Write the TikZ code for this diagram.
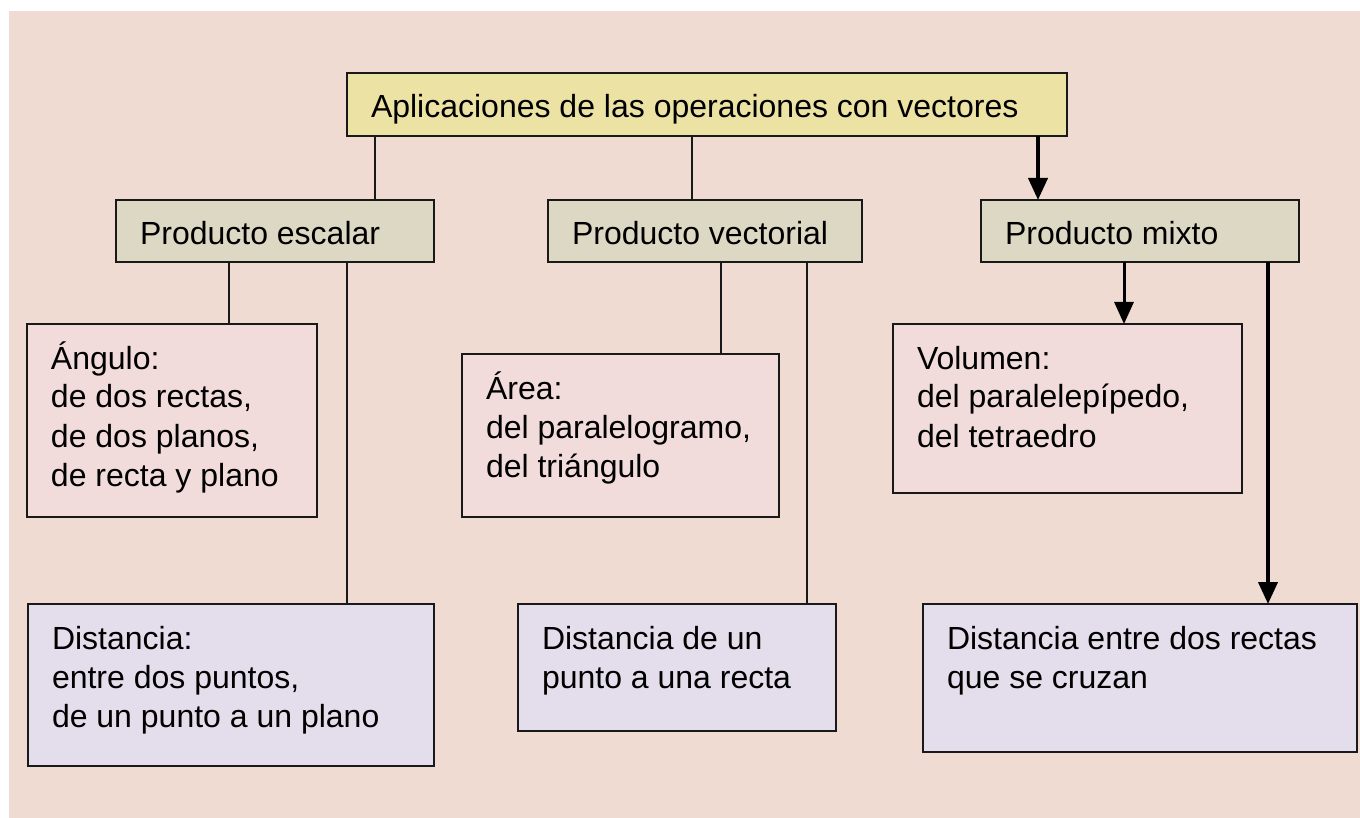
\documentclass[tikz,border=0pt]{standalone}
\usepackage{fontspec}
\setmainfont{Liberation Sans}
\usetikzlibrary{arrows.meta}
\definecolor{bgc}{RGB}{239,219,209}
\definecolor{topc}{RGB}{235,226,164}
\definecolor{midc}{RGB}{221,216,196}
\definecolor{pinkc}{RGB}{242,220,219}
\definecolor{lavc}{RGB}{228,222,236}
\newcommand{\bxt}[3]{\parbox[t][#2][t]{#1}{\fontsize{32}{39}\selectfont\raggedright\leftskip=24pt\rule{0pt}{45pt}#3}}
\tikzset{
  boxnode/.style={draw=black!90, line width=2pt, inner sep=0pt, outer sep=0pt, anchor=north west},
  thinline/.style={draw=black!90, line width=2pt},
  arrowline/.style={draw=black, -{Triangle[length=22pt,width=19pt]}}
}
\begin{document}
\begin{tikzpicture}[x=1pt,y=-1pt]
\useasboundingbox (0,0) rectangle (1360,818);
\fill[bgc] (9,11) rectangle (1360,818);
% nodes
\node[boxnode, fill=topc] (top) at (347,73) {\bxt{720pt}{63pt}{Aplicaciones de las operaciones con vectores}};
\node[boxnode, fill=midc] (esc) at (116,200) {\bxt{318pt}{62pt}{Producto escalar}};
\node[boxnode, fill=midc] (vec) at (548,200) {\bxt{314pt}{62pt}{Producto vectorial}};
\node[boxnode, fill=midc] (mix) at (981,200) {\bxt{318pt}{62pt}{Producto mixto}};
\node[boxnode, fill=pinkc] (ang) at (27,324) {\bxt{290pt}{193pt}{Ángulo:\\de dos rectas,\\de dos planos,\\de recta y plano}};
\node[boxnode, fill=pinkc] (area) at (462,354) {\bxt{317pt}{163pt}{Área:\\del paralelogramo,\\del triángulo}};
\node[boxnode, fill=pinkc] (vol) at (893,324) {\bxt{349pt}{169pt}{Volumen:\\del paralelepípedo,\\del tetraedro}};
\node[boxnode, fill=lavc] (dA) at (28,604) {\bxt{406pt}{162pt}{Distancia:\\entre dos puntos,\\de un punto a un plano}};
\node[boxnode, fill=lavc] (dB) at (518,604) {\bxt{318pt}{127pt}{Distancia de un\\punto a una recta}};
\node[boxnode, fill=lavc] (dC) at (923,604) {\bxt{434pt}{148pt}{Distancia entre dos rectas\\que se cruzan}};
% connector x positions
\coordinate (x1) at (375,0);
\coordinate (x2) at (692,0);
\coordinate (x3) at (1038,0);
\coordinate (x4) at (229,0);
\coordinate (x5) at (347,0);
\coordinate (x6) at (721,0);
\coordinate (x7) at (807,0);
\coordinate (x8) at (1124,0);
\coordinate (x9) at (1268,0);
% connectors
\draw[thinline] (top.south -| x1) -- (esc.north -| x1);
\draw[thinline] (top.south -| x2) -- (vec.north -| x2);
\draw[arrowline, line width=4pt] (top.south -| x3) -- (mix.north -| x3);
\draw[thinline] (esc.south -| x4) -- (ang.north -| x4);
\draw[thinline] (esc.south -| x5) -- (dA.north -| x5);
\draw[thinline] (vec.south -| x6) -- (area.north -| x6);
\draw[thinline] (vec.south -| x7) -- (dB.north -| x7);
\draw[arrowline, line width=3pt] (mix.south -| x8) -- (vol.north -| x8);
\draw[arrowline, line width=4pt] (mix.south -| x9) -- (dC.north -| x9);
\end{tikzpicture}
\end{document}
